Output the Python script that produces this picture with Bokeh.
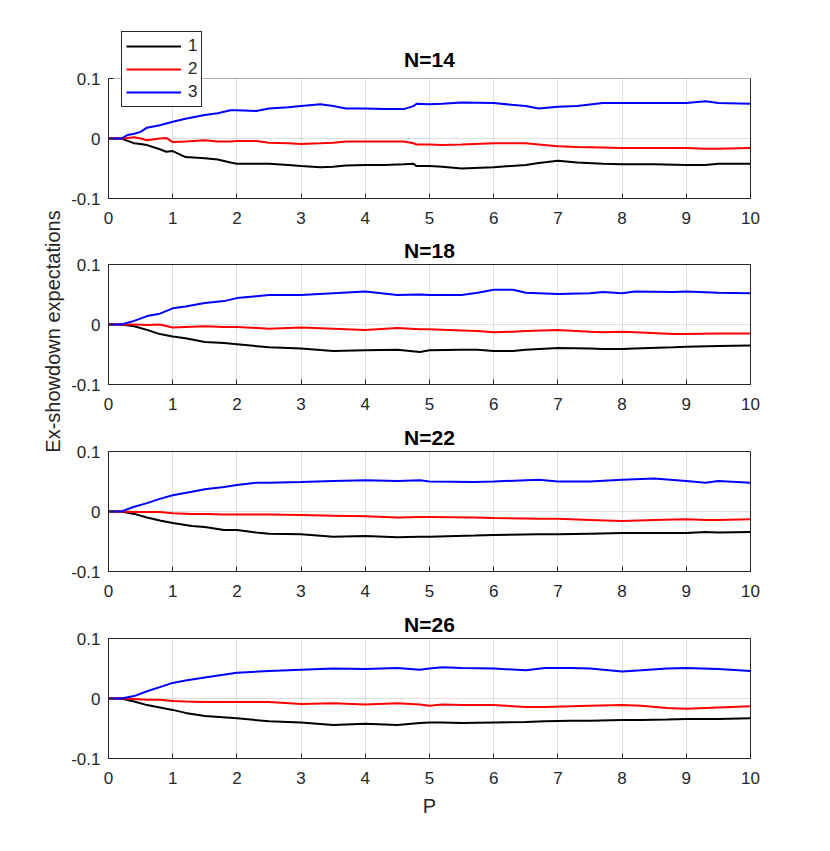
from bokeh.plotting import figure
from bokeh.models import (Range1d, FixedTicker, LinearAxis, Legend, LegendItem, CustomJSTickFormatter,
                          BoxAnnotation, Label)
from bokeh.layouts import column, row
from bokeh.embed import file_html
from bokeh.resources import INLINE

titles = ["N=14", "N=18", "N=22", "N=26"]
series_labels = ["1", "2", "3"]
x_ticks = [0, 1, 2, 3, 4, 5, 6, 7, 8, 9, 10]
y_ticks = [-0.1, 0, 0.1]
x_lim = (0, 10)
y_lim = (-0.1, 0.1)
y_label = "Ex-showdown expectations"
x_label = "P"

p14 = [0, 0.2, 0.3, 0.4, 0.5, 0.6, 0.8, 0.9, 1.0, 1.2, 1.5, 1.7, 1.9, 2.0, 2.3, 2.5, 2.8, 3.0, 3.3, 3.5, 3.7,
       4.0, 4.3, 4.6, 4.75, 4.8, 5.0, 5.2, 5.5, 6.0, 6.5, 6.7, 7.0, 7.3, 7.7, 8.0, 8.5, 9.0, 9.3, 9.5, 10.0]
s1_14 = [0, 0, -0.004, -0.008, -0.009, -0.011, -0.018, -0.022, -0.021, -0.031, -0.033, -0.035, -0.040, -0.042,
         -0.042, -0.042, -0.044, -0.046, -0.048, -0.047, -0.045, -0.044, -0.044, -0.043, -0.042, -0.046, -0.046,
         -0.047, -0.050, -0.048, -0.044, -0.041, -0.037, -0.040, -0.042, -0.043, -0.043, -0.044, -0.044, -0.042, -0.042]
s2_14 = [0, 0, 0.001, 0.002, 0.0, -0.003, 0.0, 0.001, -0.006, -0.005, -0.003, -0.005, -0.005, -0.004, -0.004,
         -0.007, -0.008, -0.009, -0.008, -0.007, -0.005, -0.005, -0.005, -0.005, -0.008, -0.010, -0.010, -0.011,
         -0.010, -0.008, -0.008, -0.010, -0.013, -0.014, -0.015, -0.016, -0.016, -0.016, -0.017, -0.017, -0.016]
s3_14 = [0, 0, 0.006, 0.008, 0.011, 0.018, 0.022, 0.025, 0.028, 0.033, 0.039, 0.042, 0.047, 0.047, 0.046, 0.050,
         0.052, 0.054, 0.057, 0.054, 0.050, 0.050, 0.049, 0.049, 0.054, 0.058, 0.057, 0.058, 0.060, 0.059, 0.054,
         0.050, 0.053, 0.054, 0.059, 0.059, 0.059, 0.059, 0.062, 0.059, 0.058]

p18 = [0, 0.2, 0.4, 0.6, 0.8, 1.0, 1.2, 1.5, 1.8, 2.0, 2.5, 3.0, 3.5, 4.0, 4.5, 4.85, 5.0, 5.5, 5.75, 6.0, 6.3,
       6.5, 7.0, 7.5, 7.7, 8.0, 8.2, 8.8, 9.0, 9.5, 10.0]
s1_18 = [0, 0, -0.003, -0.009, -0.016, -0.020, -0.023, -0.029, -0.031, -0.033, -0.038, -0.040, -0.044, -0.043,
         -0.042, -0.046, -0.043, -0.042, -0.042, -0.044, -0.044, -0.042, -0.039, -0.040, -0.041, -0.041, -0.040,
         -0.038, -0.037, -0.036, -0.035]
s2_18 = [0, 0, 0.0, -0.001, 0.0, -0.005, -0.004, -0.003, -0.004, -0.004, -0.007, -0.005, -0.007, -0.009, -0.006,
         -0.008, -0.008, -0.010, -0.011, -0.013, -0.012, -0.011, -0.009, -0.012, -0.013, -0.012, -0.013, -0.016,
         -0.016, -0.015, -0.015]
s3_18 = [0, 0, 0.006, 0.014, 0.018, 0.027, 0.030, 0.036, 0.039, 0.044, 0.049, 0.049, 0.052, 0.055, 0.049, 0.050,
         0.049, 0.049, 0.053, 0.058, 0.058, 0.053, 0.051, 0.052, 0.054, 0.052, 0.055, 0.054, 0.055, 0.053, 0.052]

p22 = [0, 0.2, 0.4, 0.6, 0.8, 1.0, 1.3, 1.5, 1.8, 2.0, 2.3, 2.5, 3.0, 3.5, 4.0, 4.5, 4.85, 5.0, 5.7, 6.0, 6.7,
       7.0, 7.5, 8.0, 8.5, 9.0, 9.3, 9.5, 10.0]
s1_22 = [0, 0, -0.004, -0.010, -0.015, -0.019, -0.024, -0.026, -0.031, -0.031, -0.035, -0.037, -0.038, -0.042,
         -0.041, -0.043, -0.042, -0.042, -0.040, -0.039, -0.038, -0.038, -0.037, -0.036, -0.036, -0.036, -0.034,
         -0.035, -0.034]
s2_22 = [0, 0, -0.001, -0.001, -0.001, -0.003, -0.004, -0.004, -0.005, -0.005, -0.005, -0.005, -0.006, -0.007,
         -0.008, -0.010, -0.009, -0.009, -0.010, -0.011, -0.012, -0.012, -0.014, -0.016, -0.014, -0.013, -0.014,
         -0.014, -0.013]
s3_22 = [0, 0, 0.008, 0.014, 0.021, 0.027, 0.033, 0.037, 0.041, 0.044, 0.048, 0.048, 0.049, 0.051, 0.052, 0.051,
         0.052, 0.050, 0.049, 0.050, 0.053, 0.050, 0.050, 0.053, 0.055, 0.051, 0.048, 0.051, 0.048]

p26 = [0, 0.2, 0.4, 0.6, 0.8, 1.0, 1.2, 1.5, 2.0, 2.5, 3.0, 3.5, 4.0, 4.5, 4.85, 5.0, 5.2, 5.5, 6.0, 6.5, 6.8,
       7.2, 7.5, 8.0, 8.3, 8.7, 9.0, 9.5, 10.0]
s1_26 = [0, 0, -0.005, -0.011, -0.015, -0.019, -0.024, -0.029, -0.033, -0.038, -0.040, -0.044, -0.042, -0.044,
         -0.041, -0.040, -0.040, -0.041, -0.040, -0.039, -0.038, -0.037, -0.037, -0.036, -0.036, -0.035, -0.034,
         -0.034, -0.033]
s2_26 = [0, 0, -0.001, -0.002, -0.002, -0.004, -0.005, -0.006, -0.006, -0.006, -0.009, -0.008, -0.010, -0.008,
         -0.010, -0.012, -0.010, -0.011, -0.011, -0.014, -0.014, -0.013, -0.012, -0.011, -0.012, -0.016, -0.017,
         -0.015, -0.013]
s3_26 = [0, 0, 0.004, 0.012, 0.019, 0.026, 0.030, 0.035, 0.043, 0.046, 0.048, 0.050, 0.049, 0.051, 0.048, 0.050,
         0.052, 0.051, 0.050, 0.047, 0.051, 0.051, 0.050, 0.045, 0.047, 0.050, 0.051, 0.049, 0.046]

panels = [
    (p14, [s1_14, s2_14, s3_14]),
    (p18, [s1_18, s2_18, s3_18]),
    (p22, [s1_22, s2_22, s3_22]),
    (p26, [s1_26, s2_26, s3_26]),
]
colors = ["#000000", "#ff0000", "#0000ff"]

FONT = "Liberation Sans"
AX = "#262626"
FRAME_W = 642
FRAME_H = 120
LEFT_COL_W = 65
EXTRA_TOP = 47          # figure 1 frame extended upward so its legend is not clipped
tops = [31, 30, 31, 31]
bottoms = [36, 36, 36, 60]

y_top_ext = y_lim[1] + (y_lim[1] - y_lim[0]) * EXTRA_TOP / FRAME_H


def style_axis(ax):
    ax.axis_line_color = AX
    ax.major_tick_line_color = AX
    ax.major_tick_in = 5
    ax.major_tick_out = 0
    ax.minor_tick_line_color = None
    ax.major_label_text_font = FONT
    ax.major_label_text_font_size = "17px"
    ax.major_label_text_color = AX
    ax.axis_label_text_font = FONT
    ax.axis_label_text_font_size = "20px"
    ax.axis_label_text_font_style = "normal"
    ax.axis_label_text_color = AX


figs = []
for i, (title, (px, ys)) in enumerate(zip(titles, panels)):
    first = (i == 0)
    yr = Range1d(y_lim[0], y_top_ext) if first else Range1d(*y_lim)
    p = figure(frame_width=FRAME_W, frame_height=FRAME_H + (EXTRA_TOP if first else 0),
               output_backend="svg", toolbar_location=None,
               x_range=Range1d(*x_lim), y_range=yr,
               min_border_left=108 - LEFT_COL_W, min_border_right=34,
               min_border_top=tops[i], min_border_bottom=bottoms[i])
    p.background_fill_color = "white"
    p.border_fill_color = "white"

    p.xaxis.ticker = FixedTicker(ticks=x_ticks)
    p.yaxis.ticker = FixedTicker(ticks=y_ticks)
    p.yaxis.formatter = CustomJSTickFormatter(code="return Math.abs(tick) < 1e-9 ? '0' : tick.toFixed(1);")
    style_axis(p.xaxis[0])
    style_axis(p.yaxis[0])
    p.xaxis.major_label_standoff = 13
    p.yaxis.major_label_standoff = 8

    p.xgrid.grid_line_color = AX
    p.xgrid.grid_line_alpha = 0.15
    p.ygrid.grid_line_color = AX
    p.ygrid.grid_line_alpha = 0.15
    p.xgrid.ticker = FixedTicker(ticks=x_ticks)
    p.ygrid.ticker = FixedTicker(ticks=y_ticks)

    if first:
        p.outline_line_color = None
        p.yaxis.bounds = y_lim
        rax = LinearAxis(ticker=FixedTicker(ticks=[]), bounds=y_lim, axis_line_color=AX,
                         major_tick_line_color=None, minor_tick_line_color=None)
        p.add_layout(rax, "right")
        # white cover above the axes box (hides grid in the legend/title strip)
        p.add_layout(BoxAnnotation(bottom=y_lim[1], fill_color="white", fill_alpha=1.0,
                                   line_alpha=0, level="underlay"))
        p.add_layout(BoxAnnotation(left=x_lim[0], right=x_lim[1], bottom=y_lim[0], top=y_lim[1],
                                   fill_alpha=0, line_color=AX, line_width=1, level="overlay"))
        p.add_layout(Label(x=(x_lim[0] + x_lim[1]) / 2, y=y_lim[1], y_offset=8, text=title,
                           text_align="center", text_baseline="bottom", text_font=FONT,
                           text_font_size="21px", text_font_style="bold", text_color="#000000"))
    else:
        p.title.text = title
        p.title.align = "center"
        p.title.text_font = FONT
        p.title.text_font_size = "21px"
        p.title.text_font_style = "bold"
        p.title.text_color = "#000000"
        p.title.standoff = 5
        p.outline_line_color = AX
        p.outline_line_width = 1
        p.outline_line_alpha = 1.0

    renderers = []
    for yv, c in zip(ys, colors):
        renderers.append(p.line(px, yv, line_color=c, line_width=2))

    if first:
        legend = Legend(items=[LegendItem(label=lab, renderers=[r]) for lab, r in zip(series_labels, renderers)],
                        location=(13, 91), glyph_width=55, glyph_height=20, label_height=20, label_width=0,
                        spacing=3, padding=4, label_standoff=7, label_text_font=FONT,
                        label_text_font_size="17px", label_text_color=AX, border_line_color=AX,
                        border_line_width=1, border_line_alpha=1.0, background_fill_alpha=1.0, margin=0)
        p.add_layout(legend, "center")
    if i == 3:
        p.xaxis.axis_label = x_label
        p.xaxis.axis_label_standoff = 8
    figs.append(p)

total_h = sum(tops) + sum(bottoms) + 4 * FRAME_H + EXTRA_TOP
lab_fig = figure(width=LEFT_COL_W, height=total_h, output_backend="svg", toolbar_location=None,
                 x_range=Range1d(0, LEFT_COL_W), y_range=Range1d(0, total_h),
                 x_axis_location=None, y_axis_location=None, min_border=0)
lab_fig.grid.visible = False
lab_fig.outline_line_color = None
lab_fig.background_fill_color = "white"
lab_fig.border_fill_color = "white"
lab_fig.add_layout(Label(x=52, y=total_h - 331, text=y_label, angle=90, angle_units="deg",
                         text_align="center", text_baseline="middle", text_font=FONT,
                         text_font_size="20px", text_color=AX))

layout = row(lab_fig, column(*figs, spacing=0), spacing=0)
open("out.html", "w").write(file_html(layout, INLINE))
